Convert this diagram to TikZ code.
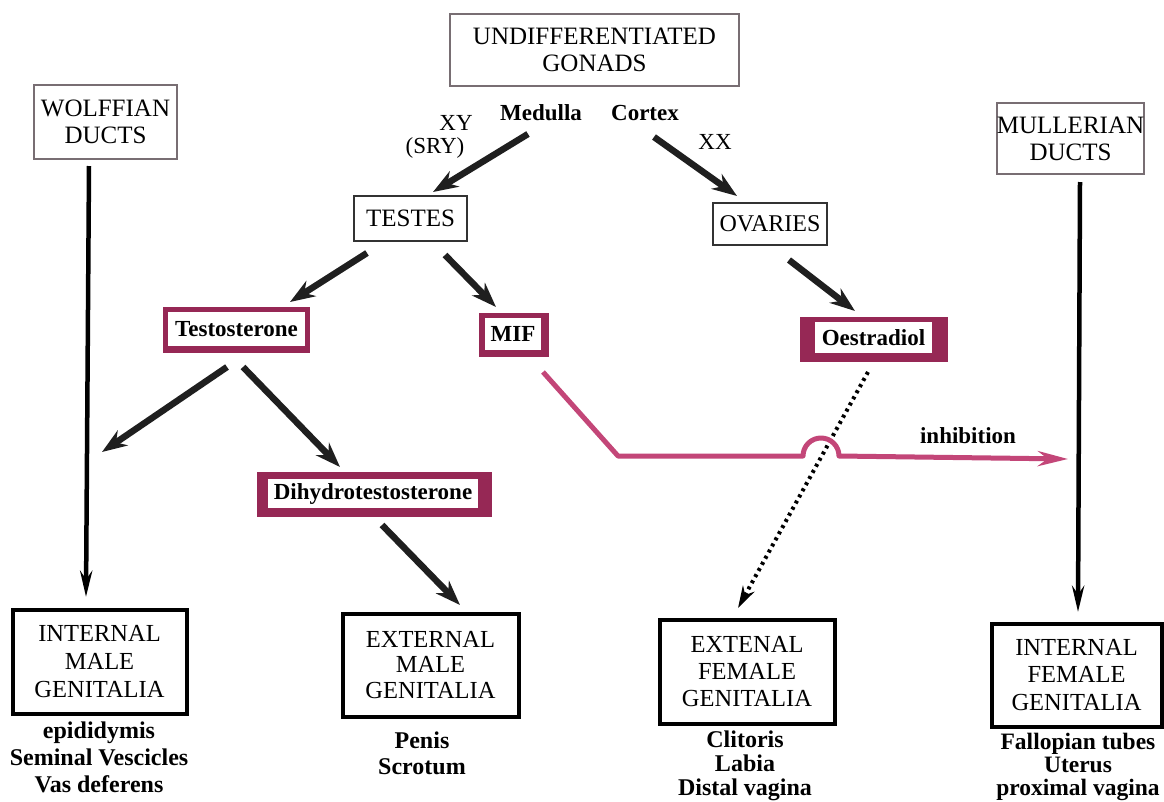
\documentclass[tikz,border=0pt]{standalone}
\usepackage{fontspec}
\setmainfont{Liberation Serif}
\usetikzlibrary{arrows.meta,backgrounds,calc}
\definecolor{boxred}{RGB}{150,40,85}
\definecolor{inhib}{RGB}{195,70,120}
\definecolor{frame}{RGB}{120,110,115}
\begin{document}
\begin{tikzpicture}[x=1pt,y=-1pt,
  capbox/.style={draw=frame, line width=1.8pt, fill=white, align=center,
    font=\fontsize{25}{27}\selectfont, inner sep=0pt},
  bigbox/.style={draw=black, line width=4pt, fill=white, align=center,
    font=\fontsize{24.5}{28}\selectfont, inner sep=0pt},
  hormone/.style={fill=white, inner sep=0pt, font=\bfseries\fontsize{23}{26}\selectfont},
  lbl/.style={font=\bfseries\fontsize{23}{26}\selectfont, inner sep=0pt, align=center},
  plainlbl/.style={font=\fontsize{23}{25}\selectfont, inner sep=0pt, align=center},
  bigarrow/.style={line width=6.5pt, draw=black!88, -{Stealth[length=25pt,width=18pt]}},
  ductline/.style={line width=4.5pt, draw=black, -{Stealth[length=26pt,width=12pt]}},
  dotline/.style={line width=4pt, draw=black, dash pattern=on 3pt off 4pt,
    -{Stealth[length=22pt,width=13pt]}},
  inhibline/.style={line width=5pt, draw=inhib, line join=round,
    -{Stealth[length=30pt,width=15pt]}}
]
\useasboundingbox (0,0) rectangle (1164,801);

% top
\node[capbox, minimum width=289pt, minimum height=72pt] (undiff) at (594.5,50) {UNDIFFERENTIATED\\GONADS};
\node[capbox, minimum width=143pt, minimum height=74pt] (wolff) at (105.5,122) {WOLFFIAN\\DUCTS};
\node[capbox, minimum width=143pt, minimum height=71pt] (mull) at (1070.5,138.5) {MULLERIAN\\DUCTS};
\node[lbl] (medulla) at (541,113) {Medulla};
\node[lbl] (cortex) at (645,113) {Cortex};
\node[plainlbl] (xy) at (456,123) {XY};
\node[plainlbl] (sry) at (435,148) {(SRY)};
\node[plainlbl] (xx) at (715,142) {XX};
\node[capbox, draw=black!80, minimum width=113pt, minimum height=45pt] (testes) at (410.5,218.5) {TESTES};
\node[capbox, draw=black!80, minimum width=114pt, minimum height=42pt,
  font=\fontsize{24}{26}\selectfont] (ovaries) at (770,224) {OVARIES};

% hormones
\node[hormone, minimum width=137pt, minimum height=34pt] (testo) at (236.5,329) {Testosterone};
\node[hormone, minimum width=56pt, minimum height=32pt] (mif) at (513,334) {MIF};
\node[hormone, minimum width=117pt, minimum height=31pt] (oest) at (873.5,337.5) {Oestradiol};
\node[hormone, minimum width=210pt, minimum height=29pt] (dht) at (373,493.5) {Dihydrotestosterone};
\node[lbl] (inhibl) at (968,436) {inhibition};

% bottom boxes
\node[bigbox, minimum width=174pt, minimum height=104pt] (intmale) at (99.5,661.5) {INTERNAL\\MALE\\GENITALIA};
\node[bigbox, minimum width=176pt, minimum height=103pt, font=\fontsize{24.5}{25.5}\selectfont] (extmale) at (430.5,665) {EXTERNAL\\MALE\\GENITALIA};
\node[bigbox, minimum width=175pt, minimum height=104pt, font=\fontsize{24.5}{27}\selectfont] (extfem) at (747,671.5) {EXTENAL\\FEMALE\\GENITALIA};
\node[bigbox, minimum width=170pt, minimum height=103pt, font=\fontsize{24.5}{27.5}\selectfont] (intfem) at (1076.5,675) {INTERNAL\\FEMALE\\GENITALIA};

% labels below
\node[lbl, font=\bfseries\fontsize{24}{27}\selectfont] (intmalel) at (99,757) {epididymis\\Seminal Vescicles\\Vas deferens};
\node[lbl, font=\bfseries\fontsize{24}{26}\selectfont] (extmalel) at (422,753) {Penis\\Scrotum};
\node[lbl, font=\bfseries\fontsize{24}{24}\selectfont] (extfeml) at (745,766) {Clitoris\\Labia\\Distal vagina};
\node[lbl, font=\bfseries\fontsize{23.5}{23}\selectfont] (intfeml) at (1078,767) {Fallopian tubes\\Uterus\\proximal vagina};

% free ends
\coordinate (testoleft) at (102,452);
\coordinate (bend) at (618,456);
\coordinate (humpstart) at (803,456);
\coordinate (inhibend) at (1068,459);

% arrows
\draw[bigarrow] ([shift={(-13,21)}]medulla.center) -- ([shift={(22.5,-26.5)}]testes.center);
\draw[bigarrow] ([shift={(9,24)}]cortex.center) -- ([shift={(-33,-28)}]ovaries.center);
\draw[bigarrow] ([shift={(-43.5,34.5)}]testes.center) -- ([shift={(53.5,-27)}]testo.center);
\draw[bigarrow] ([shift={(34.5,36.5)}]testes.center) -- ([shift={(-17,-27)}]mif.center);
\draw[bigarrow] ([shift={(19,36)}]ovaries.center) -- ([shift={(-18.5,-26.5)}]oest.center);
\draw[bigarrow] ([shift={(-9.5,38)}]testo.center) -- (testoleft);
\draw[bigarrow] ([shift={(6.5,38)}]testo.center) -- ([shift={(-33,-26.5)}]dht.center);
\draw[bigarrow] ([shift={(9,31.5)}]dht.center) -- ([shift={(29.5,-60)}]extmale.center);
\draw[ductline] ([shift={(-16.5,44)}]wolff.center) -- ([shift={(-13.5,-64.5)}]intmale.center);
\draw[ductline] ([shift={(9.5,43.5)}]mull.center) -- ([shift={(1.5,-63)}]intfem.center);
\draw[dotline] ([shift={(-5.5,34.5)}]oest.center) -- ([shift={(-9,-63.5)}]extfem.center);
\draw[inhibline] ([shift={(30,38)}]mif.center) -- (bend) -- (humpstart)
  arc[start angle=180,end angle=0,radius=18pt] -- (inhibend);

% backgrounds and hormone frames
\begin{scope}[on background layer]
\fill[white] (0,0) rectangle (1164,801);
\fill[boxred] ($(testo.north west)+(-5,-5)$) rectangle ($(testo.south east)+(5,7)$);
\fill[boxred] ($(mif.north west)+(-6,-5)$) rectangle ($(mif.south east)+(8,7)$);
\fill[boxred] ($(oest.north west)+(-15,-5)$) rectangle ($(oest.south east)+(16,9)$);
\fill[boxred] ($(dht.north west)+(-11,-7)$) rectangle ($(dht.south east)+(14,9)$);
\end{scope}
\end{tikzpicture}
\end{document}
